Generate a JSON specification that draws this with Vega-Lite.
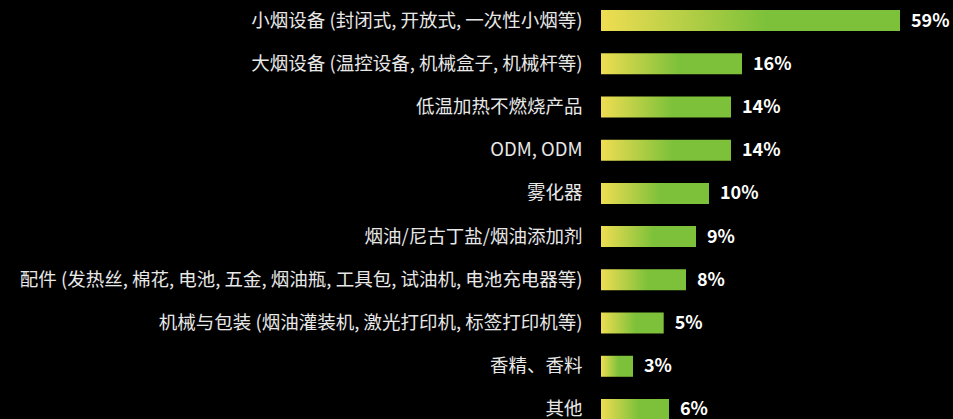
{
  "$schema": "https://vega.github.io/schema/vega-lite/v6.json",
  "background": "#000000",
  "autosize": {"type": "none"},
  "padding": {"left": 601, "top": 0, "right": 0, "bottom": 0},
  "width": 352,
  "height": 430,
  "view": {"stroke": null},
  "config": {"font": "Noto Sans CJK SC"},
  "data": {
    "values": [
      {"category": "小烟设备 (封闭式, 开放式, 一次性小烟等)", "pct": 0.59},
      {"category": "大烟设备 (温控设备, 机械盒子, 机械杆等)", "pct": 0.16},
      {"category": "低温加热不燃烧产品", "pct": 0.14},
      {"category": "ODM, ODM", "pct": 0.14},
      {"category": "雾化器", "pct": 0.10},
      {"category": "烟油/尼古丁盐/烟油添加剂", "pct": 0.09},
      {"category": "配件 (发热丝, 棉花, 电池, 五金, 烟油瓶, 工具包, 试油机, 电池充电器等)", "pct": 0.08},
      {"category": "机械与包装 (烟油灌装机, 激光打印机, 标签打印机等)", "pct": 0.05},
      {"category": "香精、香料", "pct": 0.03},
      {"category": "其他", "pct": 0.06}
    ]
  },
  "encoding": {
    "y": {
      "field": "category",
      "type": "nominal",
      "sort": null,
      "scale": {"paddingInner": 0.514, "paddingOuter": 0.2315},
      "axis": {
        "title": null,
        "domain": false,
        "ticks": false,
        "grid": false,
        "labelColor": "#e8e8e8",
        "labelFont": "Noto Sans CJK SC",
        "labelFontSize": 18.5,
        "labelPadding": 19,
        "labelLimit": 700
      }
    },
    "x": {
      "field": "pct",
      "type": "quantitative",
      "scale": {
        "domain": [0, 0.03, 0.05, 0.06, 0.08, 0.09, 0.10, 0.14, 0.16, 0.59],
        "range": [0, 32, 62.7, 68, 85, 95, 108, 130, 141, 299],
        "nice": false,
        "zero": false
      },
      "axis": null
    }
  },
  "layer": [
    {
      "mark": {
        "type": "bar",
        "color": {
          "gradient": "linear",
          "x1": 0, "y1": 0, "x2": 1, "y2": 0,
          "stops": [
            {"offset": 0, "color": "#efdd52"},
            {"offset": 0.55, "color": "#7dc13a"},
            {"offset": 1, "color": "#7dc13a"}
          ]
        }
      }
    },
    {
      "mark": {
        "type": "text",
        "align": "left",
        "baseline": "middle",
        "dx": 11,
        "dy": 1,
        "color": "#ffffff",
        "font": "Noto Sans CJK SC",
        "fontSize": 18,
        "fontWeight": "bold"
      },
      "encoding": {
        "text": {"field": "pct", "type": "quantitative", "format": ".0%"}
      }
    }
  ]
}
